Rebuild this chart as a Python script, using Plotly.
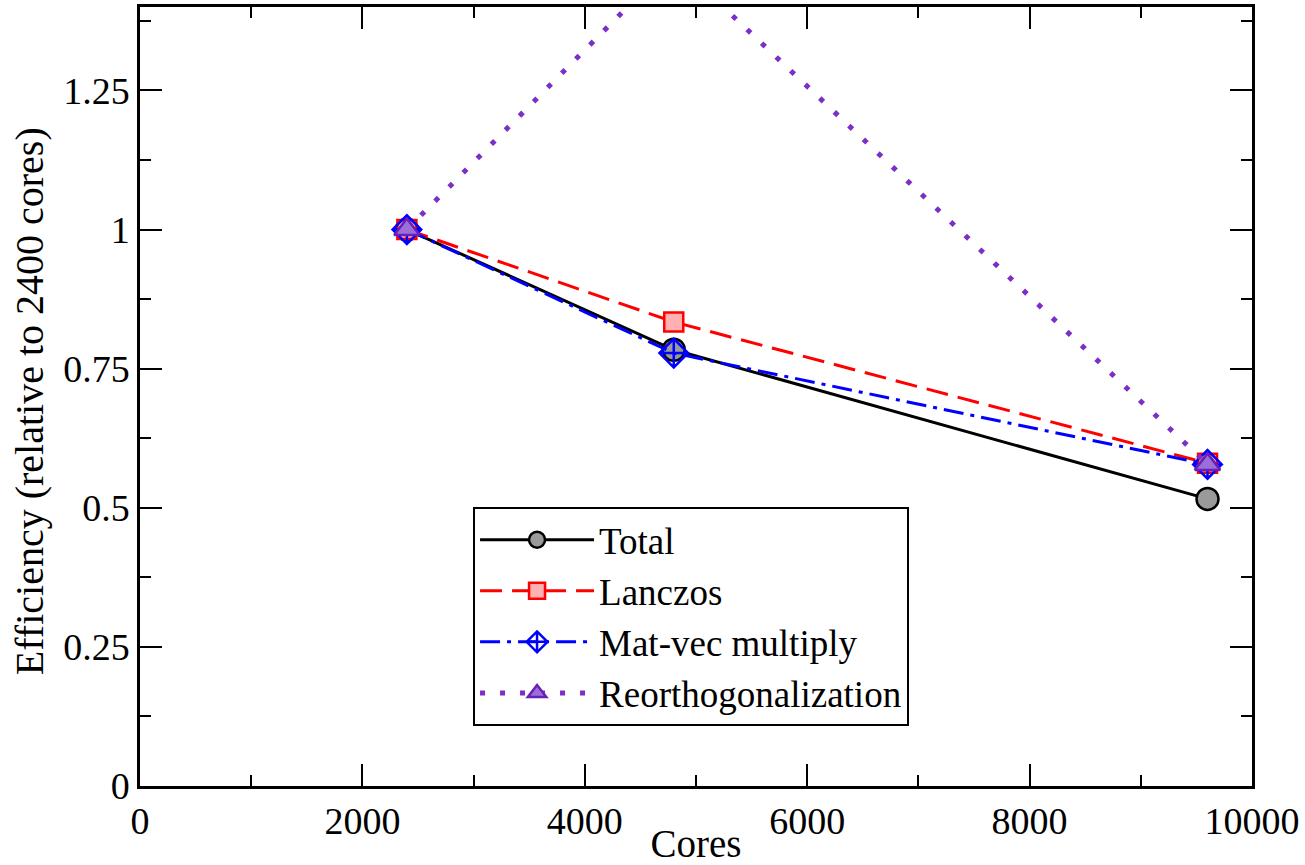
import plotly.graph_objects as go

cores = [2400, 4800, 9600]
total = [1.0, 0.784, 0.516]
lanczos = [1.0, 0.834, 0.580]
matvec = [1.0, 0.778, 0.578]
reorth = [1.0, 1.484, 0.578]

ytick_vals = [0, 0.25, 0.5, 0.75, 1, 1.25]
ytick_text = ["0", "0.25", "0.5", "0.75", "1", "1.25"]
xtick_vals = [0, 2000, 4000, 6000, 8000, 10000]
xtick_text = ["0", "2000", "4000", "6000", "8000", "10000"]

FONT = "Times New Roman, Liberation Serif, DejaVu Serif, serif"

fig = go.Figure()

fig.add_trace(go.Scatter(
    x=cores, y=total, name="Total", mode="lines+markers",
    line=dict(color="black", width=3),
    marker=dict(symbol="circle", size=22, color="#9a9a9a",
                line=dict(color="black", width=2.5)),
))
fig.add_trace(go.Scatter(
    x=cores, y=lanczos, name="Lanczos", mode="lines+markers",
    line=dict(color="#ff0000", width=3, dash="22px,10px"),
    marker=dict(symbol="square", size=19, color="#ffb0b0",
                line=dict(color="#ff0000", width=2.5)),
))
fig.add_trace(go.Scatter(
    x=cores, y=matvec, name="Mat-vec multiply", mode="lines+markers",
    line=dict(color="#0000ff", width=3, dash="20px,7px,4px,7px"),
    marker=dict(symbol="diamond-cross-open", size=22, color="#0000ff",
                line=dict(color="#0000ff", width=2.5)),
))
fig.add_trace(go.Scatter(
    x=cores, y=reorth, name="Reorthogonalization", mode="lines+markers",
    line=dict(color="#7b2fc7", width=5, dash="5px,15px"),
    marker=dict(symbol="triangle-up", size=22, color="#9b6fd8",
                line=dict(color="#6a1fb8", width=2.5)),
))

axis_common = dict(
    showline=True, linecolor="black", linewidth=2.5, mirror="ticks",
    ticks="inside", ticklen=22, tickwidth=2, tickcolor="black",
    showgrid=False, zeroline=False, automargin=False,
    tickfont=dict(family=FONT, size=38, color="black"),
)

fig.update_xaxes(
    range=[0, 10000], tickvals=xtick_vals, ticktext=xtick_text,
    minor=dict(ticks="inside", ticklen=11, tickwidth=2, tickcolor="black", dtick=1000),
    title_text="Cores", title_standoff=2,
    title_font=dict(family=FONT, size=39, color="black"),
    **axis_common,
)
fig.update_yaxes(
    range=[0, 1.4], tickvals=ytick_vals, ticktext=ytick_text,
    minor=dict(ticks="inside", ticklen=11, tickwidth=2, tickcolor="black", dtick=0.125),
    **axis_common,
)

# y-axis title placed as a rotated annotation close to the page edge
fig.add_annotation(
    text="Efficiency (relative to 2400 cores)",
    xref="paper", yref="paper", x=-0.0998, y=0.494,
    xanchor="center", yanchor="middle", textangle=-90, showarrow=False,
    font=dict(family=FONT, size=40, color="black"),
)

fig.update_layout(
    width=1305, height=865,
    margin=dict(l=140, r=53, t=7, b=79),
    plot_bgcolor="white", paper_bgcolor="white",
    font=dict(family=FONT, color="black"),
    legend=dict(
        x=0.2995, y=0.358, xanchor="left", yanchor="top",
        bgcolor="white", bordercolor="black", borderwidth=2,
        font=dict(family=FONT, size=37, color="black"),
        itemwidth=114, tracegroupgap=0,
    ),
    showlegend=True,
)

fig.write_html("out.html")
